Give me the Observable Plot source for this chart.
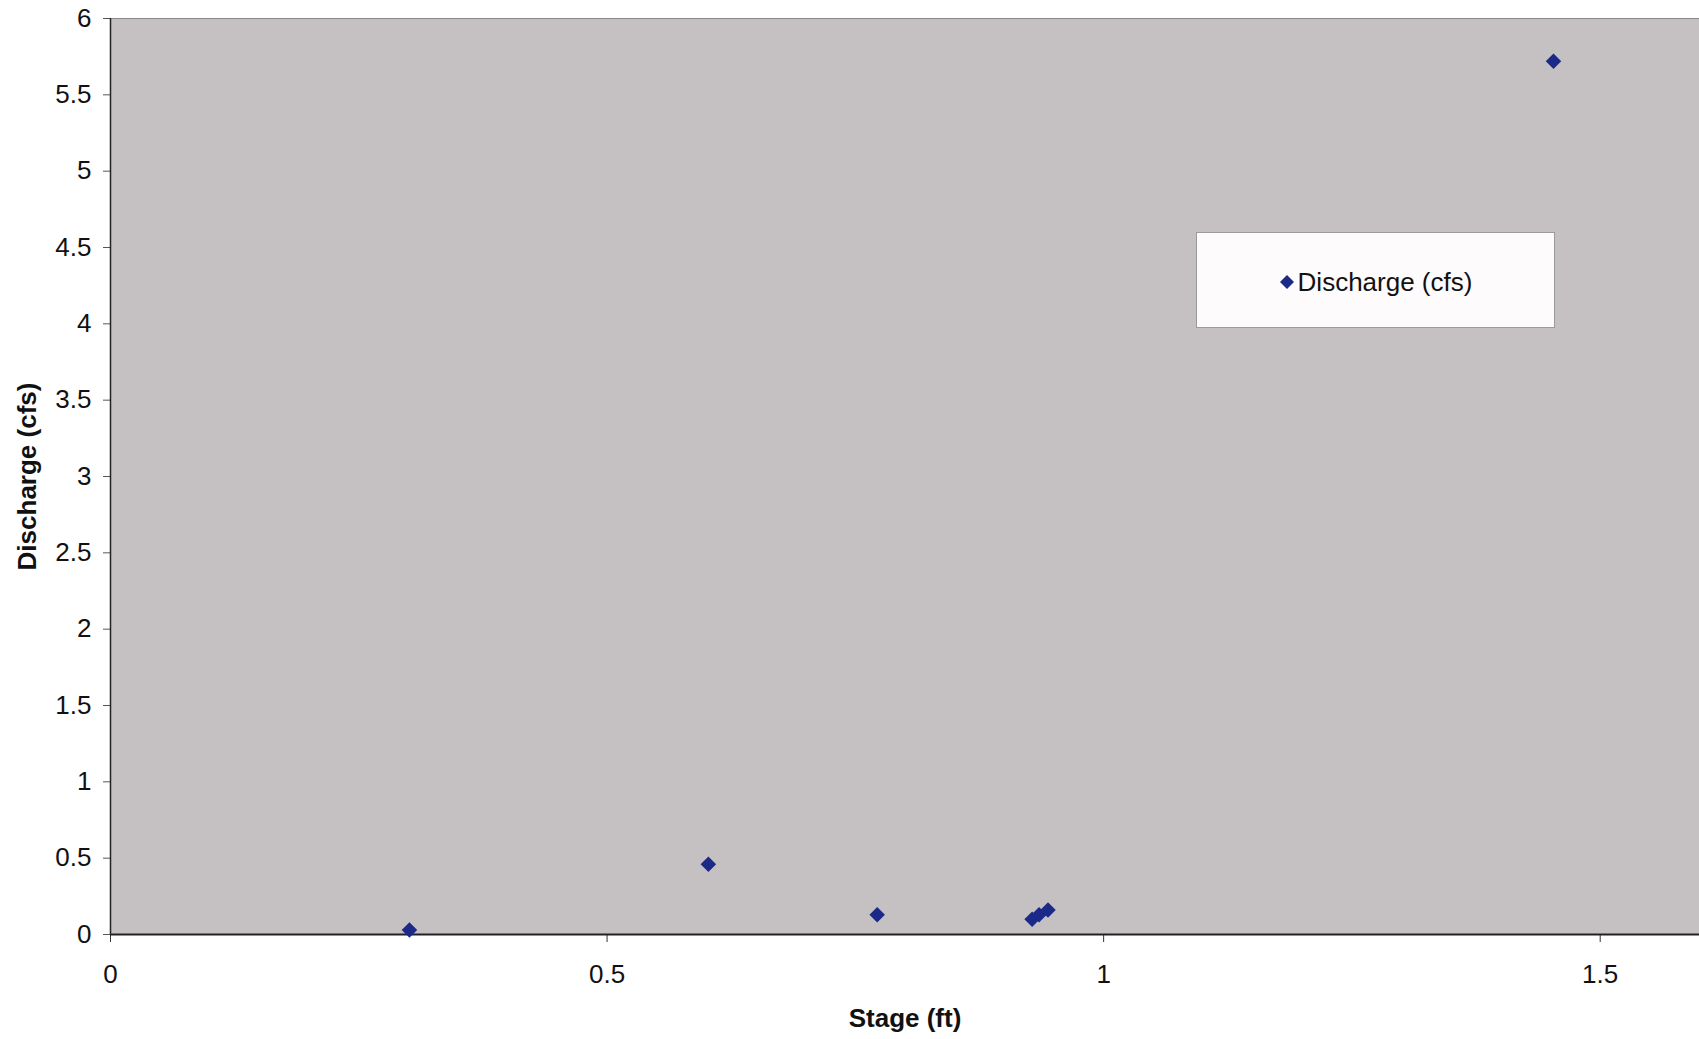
<!DOCTYPE html>
<html>
<head>
<meta charset="utf-8">
<script src="https://cdn.jsdelivr.net/npm/d3@7"></script>
<script src="https://cdn.jsdelivr.net/npm/@observablehq/plot@0.6"></script>
<style>
  html, body { margin: 0; padding: 0; background: #ffffff; }
  #wrap { position: relative; width: 1699px; height: 1039px; font-family: "Liberation Sans", Arial, sans-serif; }
  #legend {
    position: absolute; left: 1196px; top: 232px; width: 359px; height: 96px;
    background: #fdfbfc; border: 1.5px solid #9a9a9a; box-sizing: border-box;
    display: flex; align-items: center; justify-content: center; padding-top: 4px;
    font-size: 26px; color: #111;
  }
  #legend svg { margin-right: 3px; }
</style>
</head>
<body>
<div id="wrap"></div>
<script>
const seriesName = "Discharge (cfs)";
const stage     = [0.301, 0.602, 0.772, 0.928, 0.935, 0.944, 1.453];
const discharge = [0.03, 0.46, 0.13, 0.10, 0.13, 0.16, 5.72];
const xTicks = [0, 0.5, 1, 1.5];
const yTicks = [0, 0.5, 1, 1.5, 2, 2.5, 3, 3.5, 4, 4.5, 5, 5.5, 6];
const xLabel = "Stage (ft)";
const yLabel = "Discharge (cfs)";

const data = stage.map((s, i) => ({stage: s, discharge: discharge[i]}));
const markerColor = "#1b2a88";

const chart = Plot.plot({
  width: 1699,
  height: 1039,
  marginLeft: 110,
  marginRight: 0,
  marginTop: 18,
  marginBottom: 105,
  style: {fontFamily: "'Liberation Sans', Arial, sans-serif", fontSize: "26px", color: "#111", background: "#ffffff"},
  x: {domain: [0, 1.6], label: null},
  y: {domain: [0, 6], label: null},
  marks: [
    Plot.frame({fill: "#c5c1c3", stroke: null}),
    Plot.ruleY([6], {stroke: "#8a8888", strokeWidth: 1}),
    Plot.axisX({ticks: xTicks, tickFormat: d => String(d), tickSize: 8, tickPadding: 22, fontSize: 26, stroke: "#333", label: null}),
    Plot.axisY({ticks: yTicks, tickFormat: d => String(d), tickSize: 7, tickPadding: 12, fontSize: 26, stroke: "#555", label: null}),
    Plot.ruleX([0], {stroke: "#222", strokeWidth: 1.5}),
    Plot.ruleY([0], {stroke: "#222", strokeWidth: 2}),
    Plot.dot(data, {x: "stage", y: "discharge", symbol: "diamond2", r: 7, fill: markerColor, stroke: null}),
    Plot.text([xLabel], {frameAnchor: "bottom", dy: 92, text: d => d, fontWeight: "bold", fontSize: 26}),
    Plot.text([yLabel], {frameAnchor: "left", dx: -83, rotate: -90, textAnchor: "middle", text: d => d, fontWeight: "bold", fontSize: 26})
  ]
});

const wrap = document.getElementById("wrap");
wrap.appendChild(chart);

const legend = document.createElement("div");
legend.id = "legend";
legend.innerHTML = `<svg width="16" height="16" viewBox="-8 -8 16 16"><path d="M0,-7L7,0L0,7L-7,0Z" fill="${markerColor}"/></svg><span>${seriesName}</span>`;
wrap.appendChild(legend);
</script>
</body>
</html>
